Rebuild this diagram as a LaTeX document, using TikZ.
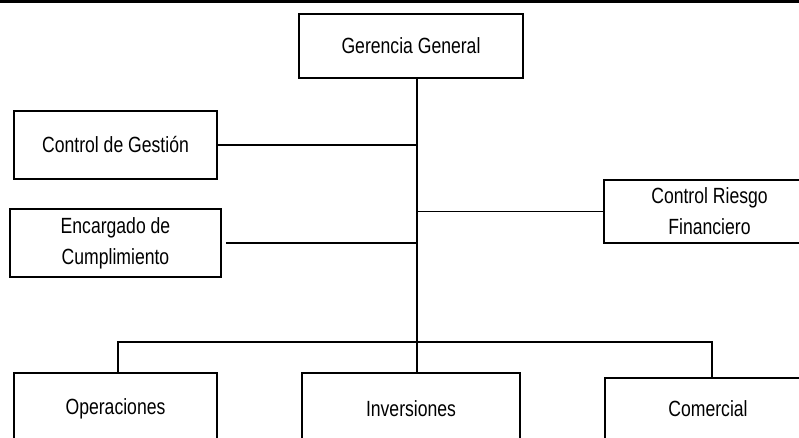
\documentclass[tikz,border=0pt]{standalone}
\usepackage{fontspec}
\setmainfont{Liberation Sans}[FakeStretch=0.8]
\usetikzlibrary{positioning, calc}
\tikzset{
  every picture/.style={line width=1.6pt},
  box/.style={draw, line width=1.6pt, align=center, inner sep=0pt, minimum width=#1},
  box/.default=204pt,
  link/.style={draw, line width=1.6pt},
  rule/.style={draw, line width=3pt},
}
\begin{document}
\begin{tikzpicture}[x=1pt, y=-1pt, every node/.append style={font=\fontsize{22}{31}\selectfont}]
  \clip (0,0) rectangle (799,438);
  \fill[white] (0,0) rectangle (799,438);
  \draw[rule] (0,2) -- (799,2);
  \node[box=224pt, minimum height=64pt] (gg) at (411,46) {Gerencia General};
  \node[box=203pt, minimum height=68pt] (cg) at (115.5,145) {Control de Gestión};
  \node[box=211pt, minimum height=68pt] (ec) at (115.5,243) {Encargado de\\Cumplimiento};
  \node[box=211pt, minimum height=63pt] (crf) at (709.5,211.5) {Control Riesgo\\Financiero};
  \node[box=203pt, minimum height=72pt] (op) at (115.5,409) {Operaciones};
  \node[box=218pt, minimum height=72pt] (inv) at (411,409) {Inversiones};
  \node[box=206pt, minimum height=62pt] (com) at (708,409) {Comercial};
  % trunk and branches
  \coordinate (top) at ([xshift=6pt]gg.south);
  \draw[link] (top) -- (top |- inv.north);
  \draw[link] (cg.east) -- (cg.east -| top);
  \draw[link] ([xshift=4pt]ec.east) -- (ec.east -| top);
  \draw[link] (crf.west) -- (crf.west -| top);
  \draw[link] ([xshift=2.5pt]op.north) -- ++(0,-30) -| ([xshift=4pt]com.north);
\end{tikzpicture}
\end{document}
